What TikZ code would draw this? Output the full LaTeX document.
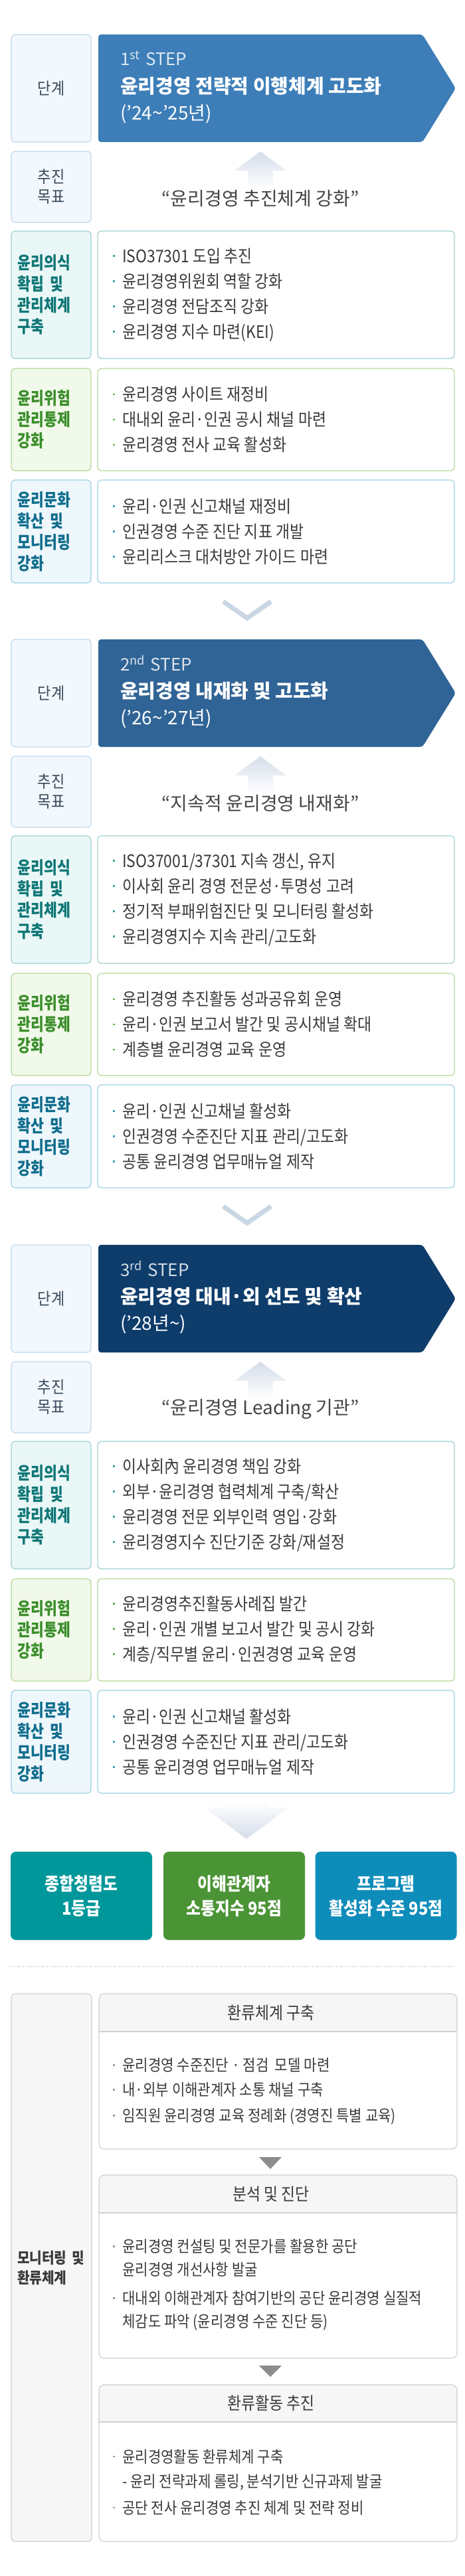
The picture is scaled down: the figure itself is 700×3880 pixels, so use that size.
\documentclass[tikz,border=0pt]{standalone}
\usepackage{fontspec}
\setmainfont{Noto Sans CJK KR}
\newfontfamily\narrowf{Noto Sans CJK KR}[FakeStretch=0.83]
\newfontfamily\midf{Noto Sans CJK KR}[FakeStretch=0.88]
\usetikzlibrary{positioning}
\definecolor{lblline}{HTML}{C0D9EC}
\definecolor{lblbg}{HTML}{F2F8FD}
\definecolor{lbltext}{HTML}{3B4A5C}
\definecolor{tealline}{HTML}{9FCFD0}
\definecolor{tealbg}{HTML}{EAF7F7}
\definecolor{tealtext}{HTML}{0F7776}
\definecolor{tealdot}{HTML}{3AA39F}
\definecolor{grnline}{HTML}{B5D898}
\definecolor{grnbg}{HTML}{F1F9EA}
\definecolor{grntext}{HTML}{3B8E2B}
\definecolor{grndot}{HTML}{62AE45}
\definecolor{skyline}{HTML}{9DCFE3}
\definecolor{skybg}{HTML}{EEF7FC}
\definecolor{skytext}{HTML}{106D8D}
\definecolor{skydot}{HTML}{3A9FC6}
\definecolor{stepA}{HTML}{3D7EB8}
\definecolor{stepB}{HTML}{306496}
\definecolor{stepC}{HTML}{0E3D6B}
\definecolor{arrowc}{HTML}{D5DDEA}
\definecolor{chevc}{HTML}{C9D6E3}
\definecolor{bodytext}{HTML}{3A3A3A}
\definecolor{goalc}{HTML}{444444}
\definecolor{headc}{HTML}{3A3A3A}
\definecolor{resA}{HTML}{00979A}
\definecolor{resB}{HTML}{4A9435}
\definecolor{resC}{HTML}{0E8CBA}
\definecolor{grayline}{HTML}{CFCFCF}
\definecolor{graybg}{HTML}{F6F6F6}
\definecolor{dotgray}{HTML}{9A9A9A}
\definecolor{tri}{HTML}{8C8C8C}
\colorlet{dotc}{black}

\newcommand{\bu}{\makebox[14pt][l]{\textcolor{dotc}{\raisebox{.33em}{\rule{2.6pt}{2.6pt}}}}}
\newcommand{\ind}{\hspace*{14pt}}
\newcommand{\labA}{윤리의식\\확립 및\\관리체계\\구축}
\newcommand{\labB}{윤리위험\\관리통제\\강화}
\newcommand{\labC}{윤리문화\\확산 및\\모니터링\\강화}

\begin{document}
\begin{tikzpicture}[x=1pt,y=-1pt,
  lblbox/.style={draw=lblline,fill=lblbg,line width=1.2,rounded corners=6,minimum width=120,align=center,text=lbltext,font=\midf\fontsize{25}{30}\selectfont},
  rowlbl/.style={draw=#1line,fill=#1bg,text=#1text,line width=1.2,rounded corners=6,minimum width=120,text width=100,inner xsep=10,align=left,font=\narrowf\bfseries\fontsize{26}{32}\selectfont},
  rowbox/.style={draw=#1line,line width=1.2,rounded corners=6,minimum width=537},
  items/.style={anchor=west,inner sep=0,align=left,text=bodytext,font=\midf\fontsize{26}{38}\selectfont,execute at begin node={\colorlet{dotc}{#1dot}}},
  stepno/.style={anchor=west,inner sep=0,font=\fontsize{26}{26}\selectfont},
  steptitle/.style={anchor=west,inner sep=0,text=white,font=\bfseries\fontsize{29}{29}\selectfont},
  stepyear/.style={anchor=west,inner sep=0,text=white,font=\fontsize{28}{28}\selectfont},
  goaltext/.style={text=goalc,font=\fontsize{28}{28}\selectfont},
  chev/.style={draw=chevc,line width=7},
  result/.style={rounded corners=8,minimum width=213,minimum height=133,inner xsep=2,text=white,align=center,font=\midf\bfseries\fontsize{27}{37}\selectfont},
  fbbox/.style={draw=grayline,fill=graybg,line width=1.2,rounded corners=6,minimum width=121,minimum height=825,text width=103,inner xsep=9,align=left,text=headc,font=\midf\bfseries\fontsize{23}{30}\selectfont},
  mbox/.style={draw=grayline,line width=1.2,rounded corners=8,minimum width=539},
  mhead/.style={text=headc,font=\midf\fontsize{26}{26}\selectfont},
  mitems/.style={anchor=west,inner sep=0,align=left,text=bodytext,font=\midf\fontsize{24}{37}\selectfont,execute at begin node={\colorlet{dotc}{dotgray}}}]
\useasboundingbox (0,0) rectangle (700,3880);

% three steps
\foreach \s/\ty/\stepc/\ord/\ttl/\yrs/\goal in {
1/52/stepA/1\textsuperscript{st}/윤리경영 전략적 이행체계 고도화/(’24\textasciitilde’25년)/“윤리경영 추진체계 강화”,
2/963/stepB/2\textsuperscript{nd}/윤리경영 내재화 및 고도화/(’26\textasciitilde’27년)/“지속적 윤리경영 내재화”,
3/1875/stepC/3\textsuperscript{rd}/윤리경영 대내·외 선도 및 확산/(’28년\textasciitilde)/“윤리경영 Leading 기관”}
{
  \node[lblbox,minimum height=162] (stage\s) at (77,\ty+81) {단계};
  \fill[\stepc,rounded corners=4] (148,\ty) -- (636,\ty) -- (686,\ty+81) -- (636,\ty+162) -- (148,\ty+162) -- cycle;
  \node[stepno,text=white!82!\stepc] (ord\s) at (181,\ty+36) {\ord\hspace{8pt}STEP};
  \node[steptitle] (title\s) at (181,\ty+78) {\ttl};
  \node[stepyear] (years\s) at (181,\ty+120) {\yrs};
  \node[lblbox,minimum height=107] (goal\s) at (77,\ty+229.5) {추진\\목표};
  \shade[top color=arrowc,middle color=arrowc,bottom color=white] (353,\ty+205) -- (392,\ty+176) -- (431,\ty+205) -- (411,\ty+205) -- (411,\ty+232) -- (373,\ty+232) -- (373,\ty+205) -- cycle;
  \node[goaltext] (quote\s) at (392,\ty+247) {\goal};
}

% rows of each step
\foreach \n/\yc/\h/\kind/\lab/\items in {
1a/444/192/teal/\labA/{\bu ISO37301 도입 추진\\\bu 윤리경영위원회 역할 강화\\\bu 윤리경영 전담조직 강화\\\bu 윤리경영 지수 마련(KEI)},
1b/632/154/grn/\labB/{\bu 윤리경영 사이트 재정비\\\bu 대내외 윤리·인권 공시 채널 마련\\\bu 윤리경영 전사 교육 활성화},
1c/800.5/155/sky/\labC/{\bu 윤리·인권 신고채널 재정비\\\bu 인권경영 수준 진단 지표 개발\\\bu 윤리리스크 대처방안 가이드 마련},
2a/1355/192/teal/\labA/{\bu ISO37001/37301 지속 갱신, 유지\\\bu 이사회 윤리 경영 전문성·투명성 고려\\\bu 정기적 부패위험진단 및 모니터링 활성화\\\bu 윤리경영지수 지속 관리/고도화},
2b/1543/154/grn/\labB/{\bu 윤리경영 추진활동 성과공유회 운영\\\bu 윤리·인권 보고서 발간 및 공시채널 확대\\\bu 계층별 윤리경영 교육 운영},
2c/1711.5/155/sky/\labC/{\bu 윤리·인권 신고채널 활성화\\\bu 인권경영 수준진단 지표 관리/고도화\\\bu 공통 윤리경영 업무매뉴얼 제작},
3a/2267/192/teal/\labA/{\bu 이사회內 윤리경영 책임 강화\\\bu 외부·윤리경영 협력체계 구축/확산\\\bu 윤리경영 전문 외부인력 영입·강화\\\bu 윤리경영지수 진단기준 강화/재설정},
3b/2455/154/grn/\labB/{\bu 윤리경영추진활동사례집 발간\\\bu 윤리·인권 개별 보고서 발간 및 공시 강화\\\bu 계층/직무별 윤리·인권경영 교육 운영},
3c/2623.5/155/sky/\labC/{\bu 윤리·인권 신고채널 활성화\\\bu 인권경영 수준진단 지표 관리/고도화\\\bu 공통 윤리경영 업무매뉴얼 제작}}
{
  \node[rowlbl=\kind,minimum height=\h] (lab\n) at (77,\yc) {\lab};
  \node[rowbox=\kind,minimum height=\h] (box\n) at (415.5,\yc) {};
  \node[items=\kind] (txt\n) at (170,\yc) {\items};
}

% chevrons between steps
\foreach \ty in {52,963}
  \draw[chev] (336,\ty+854) -- (372,\ty+879) -- (408,\ty+854);

% big arrow to the targets
\shade[top color=white,bottom color=arrowc] (339,2713) -- (402,2713) -- (402,2722) -- (435,2722) -- (371,2770) -- (307,2722) -- (339,2722) -- cycle;

\foreach \n/\x/\rc/\txt in {1/122.5/resA/{종합청렴도\\1등급},2/352.5/resB/{이해관계자\\소통지수 95점},3/581/resC/{프로그램\\활성화 수준 95점}}
  \node[result,fill=\rc] (res\n) at (\x,2855.5) {\txt};

\draw[grayline,line width=1.2,dash pattern=on 1.2pt off 2.4pt] (13,2962) -- (686,2962);

% monitoring and feedback
\node[fbbox] (loop) at (77.5,3415.5) {모니터링 및\\환류체계};
\foreach \n/\ytop/\hb/\ybot/\ttl in {1/3003/3060/3237/환류체계 구축,2/3276/3333/3552/분석 및 진단,3/3592/3648/3828/환류활동 추진}
{
  \fill[graybg] (149,\hb) -- (149,\ytop+8) arc[start angle=180,end angle=270,radius=8] -- (680,\ytop) arc[start angle=270,end angle=360,radius=8] -- (688,\hb) -- cycle;
  \draw[grayline,line width=1.2] (149,\hb) -- (688,\hb);
  \node[mbox,minimum height=\ybot-\ytop] (mbox\n) at (418.5,{(\ytop+\ybot)/2}) {};
  \node[mhead] (mhead\n) at (408,{(\ytop+\hb)/2}) {\ttl};
}
\node[mitems] (mtxt1) at (170,3150) {\bu 윤리경영 수준진단 · 점검 \ 모델 마련\\\bu 내·외부 이해관계자 소통 채널 구축\\[2pt]\bu 임직원 윤리경영 교육 정례화 (경영진 특별 교육)};
\node[mitems,font=\midf\fontsize{24}{35}\selectfont] (mtxt2) at (170,3441.5) {\bu 윤리경영 컨설팅 및 전문가를 활용한 공단\\\ind 윤리경영 개선사항 발굴\\[8pt]\bu 대내외 이해관계자 참여기반의 공단 윤리경영 실질적\\\ind 체감도 파악 (윤리경영 수준 진단 등)};
\node[mitems] (mtxt3) at (170,3738.5) {\bu 윤리경영활동 환류체계 구축\\\ind - 윤리 전략과제 롤링, 분석기반 신규과제 발굴\\[3pt]\bu 공단 전사 윤리경영 추진 체계 및 전략 정비};
\fill[tri] (390,3249) -- (424,3249) -- (407,3267) -- cycle;
\fill[tri] (390,3563) -- (424,3563) -- (407,3580) -- cycle;
\end{tikzpicture}
\end{document}
